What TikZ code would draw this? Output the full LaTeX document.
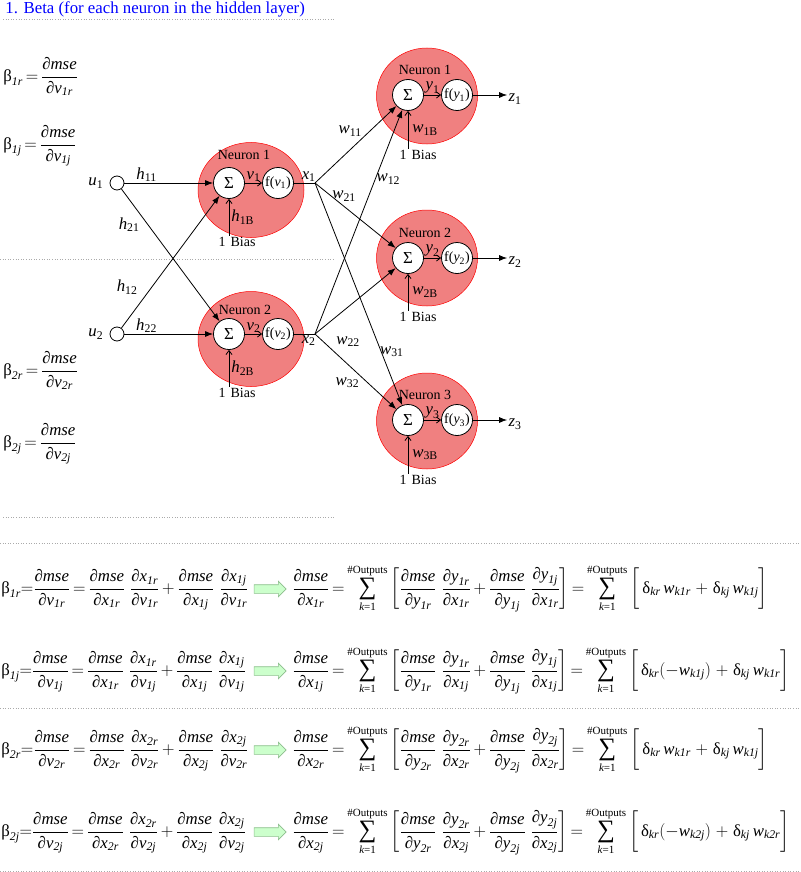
\documentclass[tikz,border=0pt]{standalone}
\usepackage{amsmath}
\usepackage{fontspec}
\setmainfont{Liberation Serif}
\usetikzlibrary{arrows.meta,positioning,shapes.geometric,shapes.arrows}

\definecolor{neuronred}{RGB}{240,128,128}
\definecolor{arrowgreen}{RGB}{204,255,204}
\definecolor{arrowedge}{RGB}{140,190,140}
\definecolor{rulegray}{RGB}{170,170,170}
\definecolor{titleblue}{RGB}{0,0,255}

\newcommand{\eqfont}{\fontsize{16.8}{20}\selectfont}
\newcommand{\tagfont}{\fontsize{14}{16}\selectfont}
\newcommand{\tightmath}{\thickmuskip=3mu plus 1mu\medmuskip=3mu\relax}
\newcommand{\itx}[1]{\text{\itshape #1}}
\newcommand{\pdsym}{\text{∂}}
\newcommand{\pdmse}[2]{\dfrac{\pdsym\itx{mse}}{\pdsym\itx{#1}_{\itx{#2}}}}
\newcommand{\pdfr}[4]{\dfrac{\pdsym\itx{#1}_{\itx{#2}}}{\pdsym\itx{#3}_{\itx{#4}}}}
\newcommand{\betasub}[1]{\text{β}_{\itx{#1}}}
\newcommand{\deltasub}[1]{\text{δ}_{\itx{#1}}}
\newcommand{\wsub}[1]{\itx{w}_{\itx{#1}}}
\newcommand{\sumout}{\mathop{\vcenter{\hbox{\fontsize{25}{25}\selectfont ∑}}}\limits^{\text{\fontsize{11}{11}\selectfont\#Outputs}}_{\text{\fontsize{11}{11}\selectfont\itshape k\upshape =1}}}
\newcommand{\vlab}[2]{$\itx{#1}_{\text{#2}}$}
\newcommand{\plusgap}{\mkern2mu+\mkern2mu}

\begin{document}
\begin{tikzpicture}[x=1pt, y=-1pt, line width=0.8pt,
  neuron/.style={ellipse, draw=red, line width=0.5pt, fill=neuronred,
    inner sep=0pt, minimum width=106pt, minimum height=95pt},
  outneuron/.style={neuron, minimum width=101pt, minimum height=96pt},
  sumcell/.style={circle, draw, fill=white, minimum size=31pt, inner sep=0pt},
  inport/.style={circle, draw, minimum size=14pt, inner sep=0pt},
  tag/.style={font=\tagfont, inner sep=1pt},
  wlab/.style={font=\eqfont, inner sep=1pt},
  eq/.style={font=\eqfont\tightmath, inner sep=0pt, anchor=base west},
  syn/.style={-{Latex[length=8pt, width=6pt]}},
  feed/.style={-{Straight Barb[length=4pt, width=6pt]}},
  dotrule/.style={draw=rulegray, dotted, line width=0.6pt},
  gofwd/.style={single arrow, draw=arrowedge, line width=0.6pt,
    fill=arrowgreen, minimum height=32pt, inner xsep=0pt, inner ysep=4pt,
    single arrow head extend=3.5pt},
]
\useasboundingbox (0,0) rectangle (800,872);

% title and separators
\node[anchor=base west, font=\eqfont, text=titleblue, inner sep=0pt] (title)
  at (5,13.5) {1. Beta (for each neuron in the hidden layer)};
\draw[dotrule] (3,19.5) -- (335,19.5);
\draw[dotrule] (0,259.5) -- (335,259.5);
\draw[dotrule] (3,517) -- (335,517);
\draw[dotrule] (0,543) -- (800,543);
\draw[dotrule] (0,708) -- (800,708);
\draw[dotrule] (0,871) -- (800,871);

% betas beside the net
\node[eq] (b1r) at (3,81.2) {$\betasub{1r} = \pdmse{v}{1r}$};
\node[eq] (b1j) at (3,149.2) {$\betasub{1j} = \pdmse{v}{1j}$};
\node[eq] (b2r) at (3,375.2) {$\betasub{2r} = \pdmse{v}{2r}$};
\node[eq] (b2j) at (3,447.2) {$\betasub{2j} = \pdmse{v}{2j}$};

% neuron bodies
\node[neuron] (hid1) at (251,190) {};
\node[neuron] (hid2) at (251,339) {};
\node[outneuron] (out1) at (427,96) {};
\node[outneuron] (out2) at (427,258) {};
\node[outneuron] (out3) at (427,421) {};

\node[tag] (nh1) at (244,155) {Neuron 1};
\node[tag] (nh2) at (245,310) {Neuron 2};
\node[tag] (no1) at (425,70) {Neuron 1};
\node[tag] (no2) at (425,233) {Neuron 2};
\node[tag] (no3) at (425,395) {Neuron 3};

% hidden layer
\node[sumcell, font=\eqfont] (hs1) at (229,183) {Σ};
\node[sumcell, font=\tagfont] (hf1) at (278,183) {f(\vlab{v}{1})};
\node[sumcell, font=\eqfont] (hs2) at (229,334) {Σ};
\node[sumcell, font=\tagfont] (hf2) at (278,334) {f(\vlab{v}{2})};

\draw[feed] (hs1) -- node[wlab, above] {\vlab{v}{1}} (hf1);
\draw[feed] (hs2) -- node[wlab, above] {\vlab{v}{2}} (hf2);

\node[tag] (bh1) at (237,242) {1\hspace{5pt}Bias};
\node[tag] (bh2) at (237,393) {1\hspace{5pt}Bias};
\draw[feed] (hs1 |- bh1.north) -- node[wlab, right=1pt] {\vlab{h}{1B}} (hs1);
\draw[feed] (hs2 |- bh2.north) -- node[wlab, right=1pt] {\vlab{h}{2B}} (hs2);

% inputs
\node[inport] (u1) at (117,183) {};
\node[inport] (u2) at (117,334) {};
\node[wlab, left=5pt of u1] (lu1) {\vlab{u}{1}};
\node[wlab, left=5pt of u2] (lu2) {\vlab{u}{2}};

\draw[syn] (u1) -- node[wlab, above, pos=.25] {\vlab{h}{11}} (hs1);
\draw[syn] (u1) -- node[wlab, left=7pt, pos=.27] {\vlab{h}{21}} (hs2);
\draw[syn] (u2) -- node[wlab, left=13pt, pos=.31] {\vlab{h}{12}} (hs1);
\draw[syn] (u2) -- node[wlab, above, pos=.25] {\vlab{h}{22}} (hs2);

% hidden outputs
\coordinate (jx1) at (315,183);
\coordinate (jx2) at (315,334);
\draw (hf1) -- node[wlab, above, pos=.7] {\vlab{x}{1}} (jx1);
\draw (hf2) -- node[wlab, below, pos=.7] {\vlab{x}{2}} (jx2);

% output layer
\node[sumcell, font=\eqfont] (os1) at (408,95) {Σ};
\node[sumcell, font=\tagfont] (of1) at (457,95) {f(\vlab{y}{1})};
\node[sumcell, font=\eqfont] (os2) at (408,258) {Σ};
\node[sumcell, font=\tagfont] (of2) at (457,258) {f(\vlab{y}{2})};
\node[sumcell, font=\eqfont] (os3) at (408,420) {Σ};
\node[sumcell, font=\tagfont] (of3) at (457,420) {f(\vlab{y}{3})};

\draw[feed] (os1) -- node[wlab, above] {\vlab{y}{1}} (of1);
\draw[feed] (os2) -- node[wlab, above] {\vlab{y}{2}} (of2);
\draw[feed] (os3) -- node[wlab, above] {\vlab{y}{3}} (of3);

\node[tag] (bo1) at (418,155) {1\hspace{5pt}Bias};
\node[tag] (bo2) at (418,317) {1\hspace{5pt}Bias};
\node[tag] (bo3) at (418,480) {1\hspace{5pt}Bias};
\draw[feed] (os1 |- bo1.north) -- node[wlab, right=3pt] {\vlab{w}{1B}} (os1);
\draw[feed] (os2 |- bo2.north) -- node[wlab, right=3pt] {\vlab{w}{2B}} (os2);
\draw[feed] (os3 |- bo3.north) -- node[wlab, right=3pt] {\vlab{w}{3B}} (os3);

\draw[syn] (jx1) -- node[wlab, above left, pos=.59] {\vlab{w}{11}} (os1);
\draw[syn] (jx1) -- node[wlab, above, pos=.36, yshift=4pt] {\vlab{w}{21}} (os2);
\draw[syn] (jx1) -- node[wlab, below right, pos=.73] {\vlab{w}{31}} (os3);
\draw[syn] (jx2) -- node[wlab, right, pos=.69] {\vlab{w}{12}} (os1);
\draw[syn] (jx2) -- node[wlab, below=28pt, pos=.41] {\vlab{w}{22}} (os2);
\draw[syn] (jx2) -- node[wlab, below left, pos=.56] {\vlab{w}{32}} (os3);

\node[wlab] (z1) at (515,99) {\vlab{z}{1}};
\node[wlab] (z2) at (515,262) {\vlab{z}{2}};
\node[wlab] (z3) at (515,424) {\vlab{z}{3}};
\draw[syn] (of1) -- (of1 -| z1.west);
\draw[syn] (of2) -- (of2 -| z2.west);
\draw[syn] (of3) -- (of3 -| z3.west);

% derivations
\node[eq] (r1l) at (1,593.2) {$\betasub{1r}{=}\pdmse{v}{1r} = \pdmse{x}{1r}\hspace{5pt}\pdfr{x}{1r}{v}{1r} + \pdmse{x}{1j}\hspace{5pt}\pdfr{x}{1j}{v}{1r}$};
\node[gofwd] (g1) at (268,589) {};
\node[eq] (r1r) at (292,593.2) {$\pdmse{x}{1r} = \sumout\left[\pdmse{y}{1r}\hspace{5pt}\pdfr{y}{1r}{x}{1r} + \pdmse{y}{1j}\hspace{5pt}\pdfr{y}{1j}{x}{1r}\right] = \sumout\left[\vphantom{\pdmse{y}{1r}}\;\deltasub{kr}\;\wsub{k1r}\plusgap\deltasub{kj}\;\wsub{k1j}\right]$};

\node[eq] (r2l) at (1,675.2) {$\betasub{1j}{=}\pdmse{v}{1j} = \pdmse{x}{1r}\hspace{5pt}\pdfr{x}{1r}{v}{1j} + \pdmse{x}{1j}\hspace{5pt}\pdfr{x}{1j}{v}{1j}$};
\node[gofwd] (g2) at (268,671) {};
\node[eq] (r2r) at (292,675.2) {$\pdmse{x}{1j} = \sumout\left[\pdmse{y}{1r}\hspace{5pt}\pdfr{y}{1r}{x}{1j} + \pdmse{y}{1j}\hspace{5pt}\pdfr{y}{1j}{x}{1j}\right] = \sumout\left[\vphantom{\pdmse{y}{1r}}\;\deltasub{kr}(-\wsub{k1j})\plusgap\deltasub{kj}\,\wsub{k1r}\right]$};

\node[eq] (r3l) at (1,754.2) {$\betasub{2r}{=}\pdmse{v}{2r} = \pdmse{x}{2r}\hspace{5pt}\pdfr{x}{2r}{v}{2r} + \pdmse{x}{2j}\hspace{5pt}\pdfr{x}{2j}{v}{2r}$};
\node[gofwd] (g3) at (268,750) {};
\node[eq] (r3r) at (292,754.2) {$\pdmse{x}{2r} = \sumout\left[\pdmse{y}{2r}\hspace{5pt}\pdfr{y}{2r}{x}{2r} + \pdmse{y}{2j}\hspace{5pt}\pdfr{y}{2j}{x}{2r}\right] = \sumout\left[\vphantom{\pdmse{y}{1r}}\;\deltasub{kr}\;\wsub{k1r}\plusgap\deltasub{kj}\;\wsub{k1j}\right]$};

\node[eq] (r4l) at (1,836.2) {$\betasub{2j}{=}\pdmse{v}{2j} = \pdmse{x}{2r}\hspace{5pt}\pdfr{x}{2r}{v}{2j} + \pdmse{x}{2j}\hspace{5pt}\pdfr{x}{2j}{v}{2j}$};
\node[gofwd] (g4) at (268,832) {};
\node[eq] (r4r) at (292,836.2) {$\pdmse{x}{2j} = \sumout\left[\pdmse{y}{2r}\hspace{5pt}\pdfr{y}{2r}{x}{2j} + \pdmse{y}{2j}\hspace{5pt}\pdfr{y}{2j}{x}{2j}\right] = \sumout\left[\vphantom{\pdmse{y}{1r}}\;\deltasub{kr}(-\wsub{k2j})\plusgap\deltasub{kj}\,\wsub{k2r}\right]$};
\end{tikzpicture}
\end{document}
